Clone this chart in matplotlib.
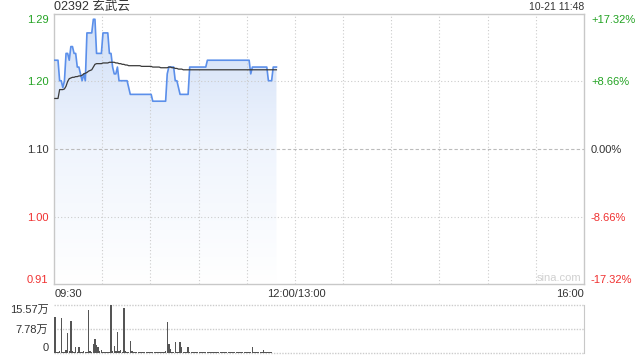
import numpy as np
import matplotlib
matplotlib.use("Agg")
import matplotlib.pyplot as plt
from matplotlib.colors import LinearSegmentedColormap

plt.rcParams["font.family"] = ["Liberation Sans", "Noto Sans CJK SC", "DejaVu Sans"]

# ── Data (one value per minute, 09:30 → 11:48) ────────────────────────────────
title = "02392 玄武云"
stamp = "10-21 11:48"
prev_close = 1.10

price = [
    1.23, 1.23, 1.23, 1.20, 1.20, 1.19, 1.20, 1.24, 1.24, 1.23,
    1.25, 1.25, 1.24, 1.24, 1.22, 1.22, 1.21, 1.20, 1.21, 1.20,
    1.27, 1.27, 1.27, 1.27, 1.29, 1.29, 1.24, 1.24, 1.24, 1.24,
    1.27, 1.27, 1.27, 1.27, 1.24, 1.24, 1.22, 1.21, 1.21, 1.22,
    1.20, 1.20, 1.20, 1.20, 1.20, 1.20, 1.19, 1.18, 1.18, 1.18,
    1.18, 1.18, 1.18, 1.18, 1.18, 1.18, 1.18, 1.18, 1.18, 1.18,
    1.18, 1.17, 1.17, 1.17, 1.17, 1.17, 1.17, 1.17, 1.17, 1.17,
    1.21, 1.22, 1.22, 1.22, 1.22, 1.20, 1.20, 1.19, 1.18, 1.18,
    1.18, 1.18, 1.18, 1.18, 1.22, 1.22, 1.22, 1.22, 1.22, 1.22,
    1.22, 1.22, 1.22, 1.22, 1.22, 1.23, 1.23, 1.23, 1.23, 1.23,
    1.23, 1.23, 1.23, 1.23, 1.23, 1.23, 1.23, 1.23, 1.23, 1.23,
    1.23, 1.23, 1.23, 1.23, 1.23, 1.23, 1.23, 1.23, 1.23, 1.23,
    1.23, 1.23, 1.21, 1.22, 1.22, 1.22, 1.22, 1.22, 1.22, 1.22,
    1.22, 1.22, 1.22, 1.20, 1.20, 1.20, 1.22, 1.22, 1.22,
]

avg_price = [
    1.174, 1.174, 1.174, 1.187, 1.187, 1.187, 1.188, 1.192, 1.199, 1.203,
    1.204, 1.205, 1.205, 1.206, 1.206, 1.207, 1.207, 1.208, 1.210, 1.211,
    1.212, 1.214, 1.215, 1.216, 1.220, 1.224, 1.225, 1.225, 1.225, 1.225,
    1.226, 1.226, 1.226, 1.226, 1.227, 1.227, 1.227, 1.227, 1.226, 1.226,
    1.225, 1.225, 1.224, 1.224, 1.223, 1.223, 1.222, 1.222, 1.222, 1.222,
    1.222, 1.222, 1.222, 1.222, 1.221, 1.221, 1.221, 1.221, 1.221, 1.221,
    1.221, 1.220, 1.220, 1.220, 1.220, 1.220, 1.219, 1.219, 1.219, 1.219,
    1.219, 1.220, 1.220, 1.219, 1.219, 1.218, 1.218, 1.217, 1.217, 1.217,
    1.216, 1.216, 1.216, 1.216, 1.216, 1.216, 1.216, 1.216, 1.216, 1.216,
    1.216, 1.216, 1.216, 1.216, 1.216, 1.216, 1.216, 1.216, 1.216, 1.216,
    1.216, 1.216, 1.216, 1.216, 1.216, 1.216, 1.216, 1.216, 1.216, 1.216,
    1.216, 1.216, 1.216, 1.216, 1.216, 1.216, 1.216, 1.216, 1.216, 1.216,
    1.216, 1.216, 1.216, 1.216, 1.216, 1.216, 1.216, 1.216, 1.216, 1.216,
    1.216, 1.216, 1.216, 1.216, 1.216, 1.216, 1.216, 1.216, 1.216,
]

# volume in 万 shares
volume = [
    11.8, 0.3, 0.3, 0.5, 11.5, 0.3, 0.3, 1.0, 6.5, 0.5,
    10.3, 0.8, 0.3, 2.0, 0.3, 2.0, 0.3, 0.3, 0.5, 0.3,
    0.3, 13.9, 0.8, 0.3, 3.0, 4.7, 2.5, 2.0, 0.5, 1.0,
    0.3, 0.3, 0.3, 0.3, 0.3, 15.57, 0.5, 2.2, 0.8, 6.9,
    0.8, 1.0, 0.3, 14.6, 0.8, 0.3, 0.3, 3.8, 0.8, 0.3,
    0.3, 0.2, 0.3, 0.3, 0.2, 0.3, 0.3, 0.2, 0.3, 0.3,
    0.2, 0.3, 0.3, 0.2, 0.3, 0.3, 0.2, 0.3, 0.3, 0.5,
    10.0, 2.8, 1.2, 0.3, 0.3, 3.5, 0.3, 0.3, 3.5, 2.0,
    0.3, 0.3, 0.3, 2.0, 0.3, 0.2, 0.3, 0.3, 0.2, 0.3,
    0.3, 0.2, 0.3, 0.3, 0.2, 0.3, 0.3, 0.2, 0.3, 0.3,
    0.2, 0.3, 0.3, 0.2, 0.3, 0.3, 0.2, 0.3, 0.3, 0.2,
    0.3, 0.3, 0.2, 0.3, 0.3, 0.2, 0.3, 0.3, 0.2, 0.3,
    0.3, 0.2, 0.3, 1.9, 0.3, 0.2, 0.3, 0.3, 0.2, 0.3,
    0.9, 0.3, 0.2, 0.4, 0.2, 0.2, 0.1, 0.1, 0.1,
]

price_ticks = [0.91, 1.00, 1.10, 1.20, 1.29]
price_tick_labels = ["0.91", "1.00", "1.10", "1.20", "1.29"]
pct_tick_labels = ["-17.32%", "-8.66%", "0.00%", "+8.66%", "+17.32%"]
vol_ticks = [0, 7.78, 15.57]
vol_tick_labels = ["0", "7.78万", "15.57万"]
session_minutes = 330   # 09:30-12:00 + 13:00-16:00

GREEN = "#23a323"
RED = "#f03030"
DARK = "#333333"
FRAME = "#c8c8c8"
GRID = "#cccccc"
LINE = "#5b8fea"

minutes = np.arange(len(price)) + 0.5

fig = plt.figure(figsize=(6.4, 3.6), dpi=100)
ax = fig.add_axes([54 / 640, 1 - 284 / 360, 530 / 640, 270 / 360])
axv = fig.add_axes([54 / 640, 1 - 353 / 360, 530 / 640, 48 / 360])

ylo, yhi = prev_close - 0.1977, prev_close + 0.1977
ax.set_xlim(0, session_minutes)
ax.set_ylim(ylo, yhi)

# ── Gradient fill under the price line ───────────────────────────────────────
cmap = LinearSegmentedColormap.from_list("fade", ["#ffffff", "#f0f5fd", "#cfdef7"])
grad = np.linspace(0, 1, 256).reshape(-1, 1)
img = ax.imshow(grad, cmap=cmap, origin="lower", aspect="auto",
                extent=[0, session_minutes, ylo, yhi], zorder=1)
poly = ax.fill_between(minutes, price, ylo, color="none", lw=0)
img.set_clip_path(poly.get_paths()[0], transform=ax.transData)
ax.set_xlim(0, session_minutes)
ax.set_ylim(ylo, yhi)

ax.plot(minutes, price, color=LINE, lw=1.2, zorder=3)
ax.plot(minutes, avg_price, color="#3a3a3a", lw=0.9, zorder=4)

# grid
for t in range(30, session_minutes, 30):
    ax.axvline(t, color=GRID, lw=0.8, ls=(0, (1, 2)), zorder=2)
for v in [1.00, 1.20]:
    ax.axhline(v, color=GRID, lw=0.8, ls=(0, (1, 2)), zorder=2)
ax.axhline(prev_close, color="#bbbbbb", lw=0.8, ls=(0, (3, 2)), zorder=2)

for s in ax.spines.values():
    s.set_color(FRAME)
    s.set_linewidth(1.0)
ax.set_xticks([])
ax.set_yticks(price_ticks)
ax.set_yticklabels(price_tick_labels, fontsize=8)
ax.tick_params(axis="y", length=0, pad=4)
for lab, v in zip(ax.get_yticklabels(), price_ticks):
    lab.set_color(GREEN if v > prev_close + 1e-9 else RED if v < prev_close - 1e-9 else DARK)

axr = ax.twinx()
axr.set_ylim(ylo, yhi)
axr.set_yticks(price_ticks)
axr.set_yticklabels(pct_tick_labels, fontsize=8)
axr.tick_params(axis="y", length=0, pad=5)
for lab, v in zip(axr.get_yticklabels(), price_ticks):
    lab.set_color(GREEN if v > prev_close + 1e-9 else RED if v < prev_close - 1e-9 else DARK)
for s in axr.spines.values():
    s.set_visible(False)

# titles and time labels
fig.text(54 / 640, 1 - 7 / 360, title, fontsize=9, color=DARK, ha="left", va="center")
fig.text(584 / 640, 1 - 7 / 360, stamp, fontsize=7.5, color=DARK, ha="right", va="center")
ax.text(0.995, 0.005, "sina.com", transform=ax.transAxes, fontsize=8,
        color="#d0d0d0", ha="right", va="bottom")

ty = 1 - 294 / 360
fig.text(55 / 640, ty, "09:30", fontsize=8, color=DARK, ha="left", va="center")
fig.text(296 / 640, ty, "12:00/13:00", fontsize=8, color=DARK, ha="center", va="center")
fig.text(584 / 640, ty, "16:00", fontsize=8, color=DARK, ha="right", va="center")

# ── Volume panel ─────────────────────────────────────────────────────────────
axv.bar(minutes, volume, width=0.9, color="#555555", lw=0, zorder=3)
axv.set_xlim(0, session_minutes)
axv.set_ylim(0, vol_ticks[-1])
for v in vol_ticks:
    axv.axhline(v, color=GRID, lw=1.0, ls=(0, (1, 1)), zorder=1, clip_on=False)
for side in ["top", "bottom", "left"]:
    axv.spines[side].set_visible(False)
axv.spines["right"].set_color(FRAME)
axv.set_xticks([])
axv.set_yticks(vol_ticks)
axv.set_yticklabels(vol_tick_labels, fontsize=8, color=DARK)
axv.tick_params(axis="y", length=0, pad=4)
labs = axv.get_yticklabels()
labs[0].set_va("bottom")
labs[2].set_va("top")

fig.savefig("out.png", dpi=100)
